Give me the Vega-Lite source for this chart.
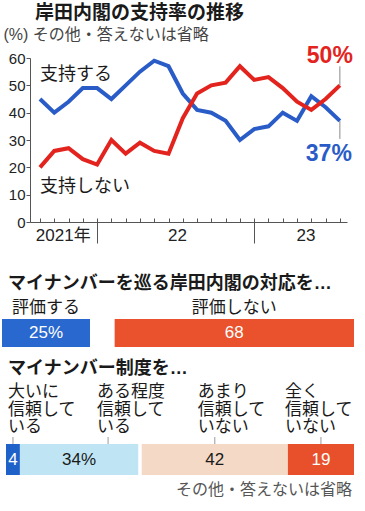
{
  "$schema": "https://vega.github.io/schema/vega-lite/v6.json",
  "autosize": {"type": "pad"},
  "padding": {"left": 2, "top": 4, "right": 4, "bottom": 4},
  "background": "white",
  "bounds": "flush",
  "spacing": 97,
  "resolve": {"scale": {"x": "independent", "y": "independent", "color": "independent"}},
  "config": {
    "view": {"stroke": null},
    "font": "Liberation Sans, Noto Sans CJK JP",
    "axisY": {"labelOverlap": false}
  },
  "datasets": {
    "poll": [
      {"i": 0, "s": "支持する", "v": 45}, {"i": 0, "s": "支持しない", "v": 20},
      {"i": 1, "s": "支持する", "v": 40}, {"i": 1, "s": "支持しない", "v": 26},
      {"i": 2, "s": "支持する", "v": 44}, {"i": 2, "s": "支持しない", "v": 27},
      {"i": 3, "s": "支持する", "v": 49}, {"i": 3, "s": "支持しない", "v": 23},
      {"i": 4, "s": "支持する", "v": 49}, {"i": 4, "s": "支持しない", "v": 21},
      {"i": 5, "s": "支持する", "v": 45}, {"i": 5, "s": "支持しない", "v": 30},
      {"i": 6, "s": "支持する", "v": 50}, {"i": 6, "s": "支持しない", "v": 25},
      {"i": 7, "s": "支持する", "v": 55}, {"i": 7, "s": "支持しない", "v": 29},
      {"i": 8, "s": "支持する", "v": 59}, {"i": 8, "s": "支持しない", "v": 26},
      {"i": 9, "s": "支持する", "v": 57}, {"i": 9, "s": "支持しない", "v": 25},
      {"i": 10, "s": "支持する", "v": 47}, {"i": 10, "s": "支持しない", "v": 38},
      {"i": 11, "s": "支持する", "v": 41}, {"i": 11, "s": "支持しない", "v": 47},
      {"i": 12, "s": "支持する", "v": 40}, {"i": 12, "s": "支持しない", "v": 50},
      {"i": 13, "s": "支持する", "v": 37}, {"i": 13, "s": "支持しない", "v": 51},
      {"i": 14, "s": "支持する", "v": 30}, {"i": 14, "s": "支持しない", "v": 57},
      {"i": 15, "s": "支持する", "v": 34}, {"i": 15, "s": "支持しない", "v": 52},
      {"i": 16, "s": "支持する", "v": 35}, {"i": 16, "s": "支持しない", "v": 53},
      {"i": 17, "s": "支持する", "v": 40}, {"i": 17, "s": "支持しない", "v": 49},
      {"i": 18, "s": "支持する", "v": 37}, {"i": 18, "s": "支持しない", "v": 44},
      {"i": 19, "s": "支持する", "v": 46}, {"i": 19, "s": "支持しない", "v": 41},
      {"i": 20, "s": "支持する", "v": 42}, {"i": 20, "s": "支持しない", "v": 45},
      {"i": 21, "s": "支持する", "v": 37}, {"i": 21, "s": "支持しない", "v": 50}
    ],
    "eval": [
      {"k": "評価する", "v": 25, "o": 1},
      {"k": "その他・答えない", "v": 7, "o": 2},
      {"k": "評価しない", "v": 68, "o": 3}
    ],
    "trust": [
      {"k": "大いに\n信頼して\nいる", "v": 4, "o": 1},
      {"k": "ある程度\n信頼して\nいる", "v": 34, "o": 2},
      {"k": "その他・答えない", "v": 1, "o": 3},
      {"k": "あまり\n信頼して\nいない", "v": 42, "o": 4},
      {"k": "全く\n信頼して\nいない", "v": 19, "o": 5}
    ]
  },
  "vconcat": [
    {
      "width": 317,
      "height": 164,
      "data": {"name": "poll"},
      "title": {
        "text": "岸田内閣の支持率の推移",
        "anchor": "start",
        "frame": "group",
        "dx": 5,
        "offset": 3,
        "fontSize": 19,
        "fontWeight": "bold",
        "color": "#1a1a1a"
      },
      "resolve": {"axis": {"x": "independent", "y": "independent"}},
      "layer": [
        {
          "mark": {"type": "line", "strokeWidth": 4},
          "encoding": {
            "x": {
              "field": "i",
              "type": "quantitative",
              "scale": {"domain": [-0.7, 21.5], "nice": false, "zero": false},
              "axis": {
                "orient": "bottom",
                "values": [0, 1, 2, 3, 4, 5, 6, 7, 8, 9, 10, 11, 12, 13, 14, 15, 16, 17, 18, 19, 20, 21],
                "tickSize": -4,
                "tickColor": "#555",
                "domainColor": "#555",
                "labelExpr": "datum.value == 1 ? '2021年' : datum.value == 9 ? '22' : datum.value == 18 ? '23' : ''",
                "labelOffset": 8.5,
                "labelPadding": 9,
                "labelFontSize": 17,
                "labelColor": "#222",
                "labelOverlap": false,
                "labelFlush": false,
                "labelBound": false,
                "labelBaseline": "top",
                "grid": false,
                "title": null
              }
            },
            "y": {
              "field": "v",
              "type": "quantitative",
              "scale": {"domain": [0, 60], "nice": false},
              "axis": {
                "orient": "left",
                "values": [0, 10, 20, 30, 40, 50, 60],
                "tickCount": 7,
                "tickSize": 4,
                "labelPadding": 1,
                "labelFontSize": 15,
                "labelColor": "#222",
                "labelOverlap": false,
                "labelFlush": false,
                "labelBound": false,
                "domainColor": "#555",
                "tickColor": "#555",
                "grid": false,
                "title": "(%) その他・答えないは省略",
                "titleAngle": 0,
                "titleAlign": "left",
                "titleBaseline": "alphabetic",
                "titleX": -27,
                "titleY": -19,
                "titleFontSize": 16,
                "titleFontWeight": "normal",
                "titleColor": "#444"
              }
            },
            "color": {
              "field": "s",
              "type": "nominal",
              "scale": {"domain": ["支持する", "支持しない"], "range": ["#2a5cc8", "#e3231d"]},
              "legend": null
            }
          }
        },
        {
          "transform": [{"filter": "datum.i == 21"}],
          "mark": {
            "type": "rule",
            "color": "#888",
            "strokeWidth": 1,
            "y2Offset": {"expr": "datum.s === '支持する' ? 18 : -19"}
          },
          "encoding": {
            "x": {
              "field": "i",
              "type": "quantitative",
              "axis": {
                "orient": "bottom",
                "values": [4, 15],
                "tickSize": 21,
                "tickColor": "#555",
                "labels": false,
                "domain": false,
                "grid": false,
                "title": null
              }
            },
            "y": {"field": "v", "type": "quantitative", "axis": null},
            "y2": {"field": "v"}
          }
        },
        {
          "transform": [
            {"filter": "datum.i == 21"},
            {"calculate": "datum.v + '%'", "as": "lab"}
          ],
          "mark": {
            "type": "text",
            "fontSize": 23,
            "fontWeight": "bold",
            "align": "right",
            "baseline": "alphabetic",
            "dx": {"expr": "datum.s === '支持する' ? 12 : 13"},
            "dy": {"expr": "datum.s === '支持する' ? 40 : -22"}
          },
          "encoding": {
            "x": {"field": "i", "type": "quantitative", "axis": null},
            "y": {"field": "v", "type": "quantitative", "axis": null},
            "text": {"field": "lab"},
            "color": {"field": "s", "type": "nominal", "legend": null}
          }
        },
        {
          "transform": [{"filter": "datum.i == 0"}],
          "mark": {
            "type": "text",
            "fontSize": 18,
            "align": "left",
            "baseline": "alphabetic",
            "color": "#1a1a1a",
            "dy": {"expr": "datum.s === '支持する' ? -19 : 25"}
          },
          "encoding": {
            "x": {"field": "i", "type": "quantitative", "axis": null},
            "y": {"field": "v", "type": "quantitative", "axis": null},
            "text": {"field": "s"}
          }
        }
      ]
    },
    {
      "width": 317,
      "height": 28,
      "data": {"name": "eval"},
      "title": {
        "text": "マイナンバーを巡る岸田内閣の対応を…",
        "anchor": "start",
        "frame": "group",
        "dx": -22,
        "offset": 6,
        "fontSize": 18,
        "fontWeight": "bold",
        "color": "#1a1a1a"
      },
      "transform": [
        {"stack": "v", "groupby": [], "sort": [{"field": "o"}], "as": ["x0", "x1"]},
        {"calculate": "(datum.x0 + datum.x1) / 2", "as": "xm"},
        {"calculate": "datum.o == 1 ? datum.v + '%' : '' + datum.v", "as": "lab"},
        {"filter": "datum.k !== 'その他・答えない'"}
      ],
      "layer": [
        {
          "mark": {"type": "bar"},
          "encoding": {
            "x": {
              "field": "x0",
              "type": "quantitative",
              "scale": {"domain": [0, 100], "range": [-28, 324], "nice": false, "zero": false},
              "axis": null
            },
            "x2": {"field": "x1"},
            "y": {"datum": 0, "type": "quantitative", "scale": {"domain": [0, 1], "nice": false}, "axis": null},
            "y2": {"datum": 1},
            "color": {
              "field": "k",
              "type": "nominal",
              "scale": {"domain": ["評価する", "評価しない"], "range": ["#2968cf", "#e9522c"]},
              "legend": null
            }
          }
        },
        {
          "mark": {"type": "text", "fontSize": 17, "color": "white", "baseline": "middle", "align": "center"},
          "encoding": {
            "x": {"field": "xm", "type": "quantitative"},
            "y": {"datum": 0.5, "type": "quantitative"},
            "text": {"field": "lab"}
          }
        },
        {
          "mark": {"type": "text", "fontSize": 17, "color": "#1a1a1a", "baseline": "alphabetic", "align": "center", "dy": -6},
          "encoding": {
            "x": {"field": "xm", "type": "quantitative"},
            "y": {"datum": 1, "type": "quantitative"},
            "text": {"field": "k"}
          }
        }
      ]
    },
    {
      "width": 317,
      "height": 31,
      "data": {"name": "trust"},
      "title": {
        "text": "マイナンバー制度を…",
        "anchor": "start",
        "frame": "group",
        "dx": -22,
        "offset": 5,
        "fontSize": 18,
        "fontWeight": "bold",
        "color": "#1a1a1a"
      },
      "transform": [
        {"stack": "v", "groupby": [], "sort": [{"field": "o"}], "as": ["x0", "x1"]},
        {"calculate": "(datum.x0 + datum.x1) / 2", "as": "xm"},
        {"calculate": "datum.o == 2 ? datum.v + '%' : '' + datum.v", "as": "lab"}
      ],
      "layer": [
        {
          "transform": [{"filter": "datum.o != 3"}],
          "mark": {"type": "bar"},
          "encoding": {
            "x": {
              "field": "x0",
              "type": "quantitative",
              "scale": {"domain": [0, 100], "range": [-24, 324], "nice": false, "zero": false},
              "axis": null
            },
            "x2": {"field": "x1"},
            "y": {"datum": 0, "type": "quantitative", "scale": {"domain": [0, 1], "nice": false}, "axis": null},
            "y2": {"datum": 1},
            "color": {
              "field": "o",
              "type": "nominal",
              "scale": {"domain": [1, 2, 4, 5], "range": ["#1e62c9", "#bfe5f4", "#f4dac6", "#e7502a"]},
              "legend": null
            }
          }
        },
        {
          "transform": [{"filter": "datum.o != 3"}],
          "mark": {"type": "text", "fontSize": 17, "baseline": "middle", "align": "center"},
          "encoding": {
            "x": {"field": "xm", "type": "quantitative"},
            "y": {"datum": 0.5, "type": "quantitative"},
            "text": {"field": "lab"},
            "color": {
              "condition": {"test": "datum.o == 2 || datum.o == 4", "value": "#1a1a1a"},
              "value": "white"
            }
          }
        },
        {
          "transform": [{"filter": "datum.o != 3"}],
          "mark": {
            "type": "rule",
            "color": "#999",
            "strokeWidth": 1,
            "y2Offset": -7,
            "xOffset": {"expr": "datum.o == 2 ? 29 : 0"}
          },
          "encoding": {
            "x": {"field": "xm", "type": "quantitative"},
            "y": {"datum": 1, "type": "quantitative"},
            "y2": {"datum": 1}
          }
        },
        {
          "transform": [{"filter": "datum.o != 3"}],
          "mark": {
            "type": "text",
            "fontSize": 17,
            "lineHeight": 17.5,
            "lineBreak": "\n",
            "color": "#1a1a1a",
            "baseline": "alphabetic",
            "align": "left",
            "dy": -47,
            "dx": {"expr": "datum.o == 1 ? -5 : datum.o == 2 ? 18 : datum.o == 4 ? -17 : -36"}
          },
          "encoding": {
            "x": {"field": "xm", "type": "quantitative"},
            "y": {"datum": 1, "type": "quantitative"},
            "text": {"field": "k"}
          }
        },
        {
          "transform": [{"filter": "datum.o == 5"}],
          "mark": {"type": "text", "fontSize": 16, "color": "#555", "baseline": "top", "align": "right", "dx": -2, "dy": 7},
          "encoding": {
            "x": {"field": "x1", "type": "quantitative"},
            "y": {"datum": 0, "type": "quantitative"},
            "text": {"value": "その他・答えないは省略"}
          }
        }
      ]
    }
  ]
}
